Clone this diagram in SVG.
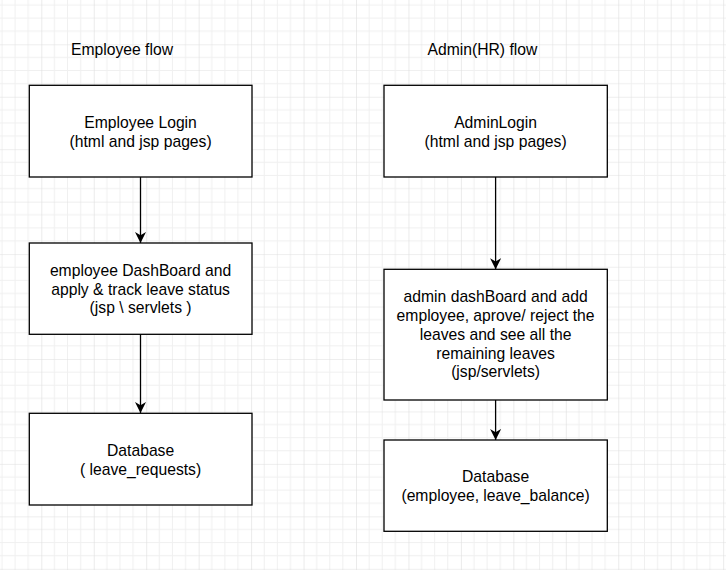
<svg xmlns="http://www.w3.org/2000/svg" width="726" height="570" viewBox="0 0 726 570">
  <defs>
    <pattern id="grid" patternUnits="userSpaceOnUse" x="41.3" y="44.3" width="52.45" height="52.45">
      <path d="M13.11 0V52.45M26.22 0V52.45M39.34 0V52.45M0 13.11H52.45M0 26.22H52.45M0 39.34H52.45" stroke="#f0f0f0" stroke-width="1" fill="none"/>
      <path d="M0 0V52.45M0 0H52.45" stroke="#dedede" stroke-width="1.2" fill="none"/>
    </pattern>
    <marker id="arr" viewBox="0 0 11 11" refX="11" refY="5.5" markerWidth="11" markerHeight="11" markerUnits="userSpaceOnUse" orient="auto">
      <path d="M0,0 L11,5.5 L0,11 L3.2,5.5 Z" fill="#000"/>
    </marker>
    <style>
      .box { fill: #fff; stroke: #000; stroke-width: 1.3; }
      .t { font-family: "Liberation Sans", Arial, sans-serif; font-size: 15.7px; fill: #000; text-anchor: middle; }
      .title { font-family: "Liberation Sans", Arial, sans-serif; font-size: 15.7px; fill: #000; }
      .edge { stroke: #000; stroke-width: 1.3; fill: none; marker-end: url(#arr); }
    </style>
  </defs>
  <rect x="0" y="0" width="726" height="570" fill="#fff"/>
  <rect x="0" y="0" width="726" height="570" fill="url(#grid)"/>

  <g id="labels">
    <text class="title" x="71" y="55">Employee flow</text>
    <text class="title" x="427.5" y="55">Admin(HR) flow</text>
  </g>

  <g id="connectors">
    <line class="edge" x1="140.5" y1="177" x2="140.5" y2="243"/>
    <line class="edge" x1="140.5" y1="334" x2="140.5" y2="413"/>
    <line class="edge" x1="495.6" y1="177" x2="495.6" y2="269.3"/>
    <line class="edge" x1="495.6" y1="400" x2="495.6" y2="440"/>
  </g>

  <g id="employee-login">
    <rect class="box" x="29.3" y="85.3" width="222.7" height="91.7"/>
    <text class="t" x="140.6" y="128.3">Employee Login</text>
    <text class="t" x="140.6" y="147.2">(html and jsp pages)</text>
  </g>

  <g id="employee-dashboard">
    <rect class="box" x="29.3" y="243" width="222.7" height="91.3"/>
    <text class="t" x="140.6" y="275.8">employee DashBoard and</text>
    <text class="t" x="140.6" y="294.6">apply &amp; track leave status</text>
    <text class="t" x="140.6" y="313.4">(jsp \ servlets )</text>
  </g>

  <g id="employee-db">
    <rect class="box" x="29.3" y="413.3" width="222.7" height="91.7"/>
    <text class="t" x="140.6" y="456">Database</text>
    <text class="t" x="140.6" y="474.9">( leave_requests)</text>
  </g>

  <g id="admin-login">
    <rect class="box" x="384" y="85.3" width="223.3" height="91.7"/>
    <text class="t" x="495.6" y="128.3">AdminLogin</text>
    <text class="t" x="495.6" y="147.2">(html and jsp pages)</text>
  </g>

  <g id="admin-dashboard">
    <rect class="box" x="384" y="269.3" width="223.3" height="130.7"/>
    <text class="t" x="495.6" y="302">admin dashBoard and add</text>
    <text class="t" x="495.6" y="320.9">employee, aprove/ reject the</text>
    <text class="t" x="495.6" y="339.7">leaves and see all the</text>
    <text class="t" x="495.6" y="358.6">remaining leaves</text>
    <text class="t" x="495.6" y="377.4">(jsp/servlets)</text>
  </g>

  <g id="admin-db">
    <rect class="box" x="384" y="440" width="223.3" height="91.3"/>
    <text class="t" x="495.6" y="482.3">Database</text>
    <text class="t" x="495.6" y="501.1">(employee, leave_balance)</text>
  </g>
</svg>
